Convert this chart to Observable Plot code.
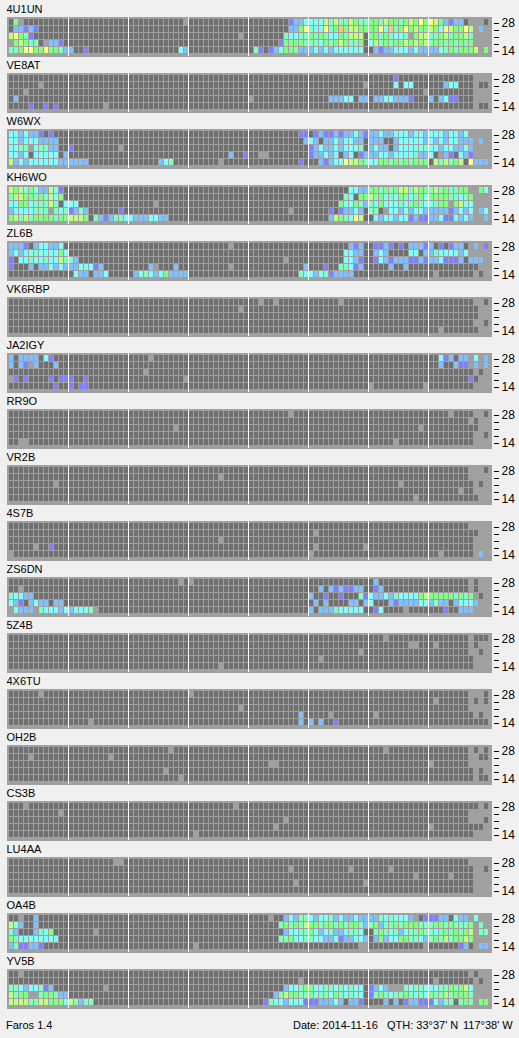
<!DOCTYPE html>
<html>
<head>
<meta charset="utf-8">
<script src="https://cdn.jsdelivr.net/npm/d3@7"></script>
<script src="https://cdn.jsdelivr.net/npm/@observablehq/plot@0.6"></script>
<style>
html,body{margin:0;padding:0;background:#f0f0f0;}
#foot{position:relative;height:24px;font:11px "Liberation Sans",sans-serif;color:#000;white-space:pre;}
#foot span{position:absolute;top:5px;}
svg{display:block;}
</style>
</head>
<body>
<div id="chart"></div>
<div id="foot"><span style="left:6px">Faros 1.4</span><span style="left:293px">Date: 2014-11-16</span><span style="left:387px">QTH: 33°37' N</span><span style="left:463px">117°38' W</span></div>
<script>
// Beacons, top to bottom
const stations = ["4U1UN","VE8AT","W6WX","KH6WO","ZL6B","VK6RBP","JA2IGY","RR9O","VR2B","4S7B","ZS6DN","5Z4B","4X6TU","OH2B","CS3B","LU4AA","OA4B","YV5B"];
// Amateur bands (MHz), top row to bottom row
const bands = [28,24,21,18,14];
const bandLabels = [28,14];
// 96 quarter-hour slots; a white rule every 3 hours
const slots = d3.range(96);
const hourRules = d3.range(12,96,12);
// Cell codes: . no signal, p..o signal strength; _ no measurement
const codes = [".","p","b","c","m","g","l","y","o"];
const codeColors = ["#707070","#8080ff","#80c0ff","#80ffff","#80ffc0","#80ff80","#c0ff80","#ffff80","#ffc080"];

// Each row: 8 groups of 12 slots; "-" means 12 dark slots
const s4U1UN = [
".g_......... - ..........._ - ........pbbc ccclmlmmlgmm ggmlggmglgyg ylgbpbb.___.",
".bbpbp...... - - - ........bbgy mccymgogllgg ggycomgyglgg lgcylggyl_b_",
"lygmp....... - - .........._. .......mccmm gmgmccgmlll. ggmgmccm_gll mmglmgglm___",
"_glgmm._bbp. - - - ......pggggm mmcgmglgmmg. clmgmgglglgl mggmgmgmg___",
"mmgyyggyggmb b..p........ ..........cb - .mp.pbcggmbb bcbcbcccccc. .bpbbcccbcbb bbcmgmgggl_g"];
const sVE8AT = [
"- - - - - - .....p...... .........___",
"......_..... - - - - ..........._ .....c.cc... ...bcc..._..",
"..._........ - - - - - ..........._ .........___",
".b.......... - - - _........... ....bbbcc.bb .bbccbbbp... b.bcpp...___",
"....p..p.p.. ......._.... - - - - - ........._.."];
const sW6WX = [
"ccbcbbp.p... - - - ..........pp .pbppbpbbcbp bbcbbcccbccb cccbccbc____",
"ccbcccbbbb.. - - - ...........b cb.bbcbccbb. bbb..bcccccb cbcbccbbb_b_",
"ccmm_cmmbb.. p........._. - - - pbcbbcbcccm. bcbb.bcccccm ccbccbbcb___",
"ccbc.ccccc.b - - ........b..p ..__........ pbbcbc.bc.pb bbccbccccmbb c._bp.cbp___",
"lbcbccccccbb bbbb........ ......bcm... ......_..... ..........p. ..bpbccyllgm ccggmgmgmggg .lmlmgl.ybbb"];
const sKH6WO = [
"lglcgcbblcp. - - - - ........ccbb ggmgmgllmlgg mlmgmmgg__gc",
"mllggmgmlcg. - - - - .......mc.gg lmgcmcgmcmgc ggggmmcmg___",
"ccggcmmmlm.c cc.......... ....._...... - - ......gccgmb mcgcccmcmgmc cmgg_glcc___",
"bccccmmm_mcm pbmb......p. - - ........_... ....p.pbbcb. mm._ccbcbccb bbbbpbcbc_bc",
"glmlmggggmgg lllg.mbpbmmc cbbbccbb.... - - ....blgmcyl. .cbccbccpbpp bbcppcbcb__b"];
const sZL6B = [
"bbbp.bccbbc. - - ........_... - ........bpb. .ppbp.p.bbbp b.p.pbb._b_p",
"bcbccmccccgc - - - - .......ccbb. .bcb....cc.b bmccccbc____",
"p.ccmccmcclm mb.......... - - ......._.... .......ccbp. .pcbpbbbppbp bbcpppb.bbb_",
"p...b.bbcbcb bbcccpb..... ....b_...b.. ........_... ...........b ...p..mmcpb. ....b..b.... ..........__",
"- .cbb.bbc.... .bcmcbcgbbbb - ..........mc cbcmpbbbb... - ._......._._"];
const sVK6RBP = [
"- - - - .._.._...... ......_..... - .........__.",
"- - - .........._. - - - ..........__",
"- - - - - - - ..........__",
"- - - - - - - .........__.",
"- - - - - - - .._.......__"];
const sJA2IGY = [
"b.bbbb.cp... - ...._....... - - - - ..cpb.bb_c_b",
"b.bp_b...b.. - - - - - - ..b..bpp_b_b",
"- - ..._........ - - - - ........._._",
"_p.p....p.pp p..p........ ..........._ - - - - ........p.__",
".........p.. p.pp........ - - - - _.........._ .........___"];
const sRR9O = [
"- - - - ........_... - - ...._....__.",
"- - - - - - - ........_.__",
"- - ........._.. - - - .........._. ..........__",
"- - - - - - - .........__.",
"..__........ - - - - - ....._...... .........___"];
const sVR2B = [
"- - - - - - - ........___.",
"- - - ......_..... - - - ........____",
"........._.. - - - - - ......_..... ........._._",
"- - - - - - - ......_..___",
"- - - - - - ........._.. ..........__"];
const s4S7B = [
"- - - - - - - ........____",
"- - - - - ._.......... - ..........__",
"- - - ......_..... - - - .........___",
"....._..p... - - - - ._........._ - .........___",
"_........... - - - - _........... - .._......_b_"];
const sZS6DN = [
"- - .........._. _........... - - .b.......... ........_.__",
".._......... - - - - ..b.bpbppbb. .pb......... ........_.__",
"mccbb....... - - - - b..p..p...mp cbbcbmccccgl gggggmgmg_._",
"cbp.bcbb.bb. - - - - .b.b....bb.b c...bpbbbbcc bmbb.bcccb__",
"_cbbb_mcccbc bcccm_...... - - - b.bbbmccccc. .pc...._.... ...p..bbb___"];
const s5Z4B = [
"- - - - - - ..._........ ........_...",
"- - - - - - ........__.. ._......_.__",
"- - - - - .........._. - ........__._",
"- - - - - .._......... - .........___",
"- - - ......_..... - - - .........___"];
const s4X6TU = [
"......_..... - - _........... - - - ........___.",
"- - - - - - - ._......_._.",
"- - - .........._. - - - ........____",
"- - - - ..........b. ...._....... ._.......... ........._._",
"- ...._....... - - ..........b. b.b..p...... - -"];
const sOH2B = [
"- - ........_... - - - ..._........ ........_._.",
"...._....... ........_... - - - - - ........__..",
"- - - - ....__...... - - _.......____",
"- - ......._.... - - - - ........._._",
"- - .........._. - - - - ........._.."];
const sCS3B = [
"..._........ - - ........._.. - - - .........._.",
".........._. - - - - - - ........____",
"- - - - ......._.... - - ........___.",
"- - - - ....._...... - - _.........._",
"- - - ._.......... - - - .........___"];
const sLU4AA = [
"- .........__. - - - - - ........____",
"- - - - ........_... ........_... ...._....... .........__.",
"- - - - - - ........._.. ...._....___",
"- - - - ........._.. ..........._ - .........___",
"- - - - - - - .........___"];
const sOA4B = [
".._..b...... - - - ...._..bcbmm cbccmbcbbcbb bbmcmcccb_.p ppbb.cbb_c__",
"lcb..b...... - - - ......mgmgml ggmggmgmggmb mgbmmgmgggmm mggmgmmmg_m_",
"mb...bmcg... ....._...... - - .......bccmm gcbcmbbcmmc. .mgmcmbcmmgm mcmgmgmgl_mm",
"gmcccccccc.. - - - ......mmgccm mccbbcpbbccb .bgbccggmmcb mgmlmgglg___",
"bmppbbp..... - - ._.......... - ..........__ ..........._ ......pb._bb"];
const sYV5B = [
".._......... - - - - - - ........_.__",
"- - - - .........._. - - ._......._._",
"mmcbccmpb... ......._.... - - .......bccmg gccmmcmcmcc. pbcb___mcmmc ccmmgmglc___",
"lmgg__mggmbb - - - .....bmlggmm gcmmcgmcmcc. pmgmcmmgmcmc gmmlmgggm___",
"llllmmllgggc lmbmm....... - - ...pmccbcccp ppbbbcb.bbp. ...b.b.pbbpp pcbmm.mgm_gg"];

const grids = [s4U1UN,sVE8AT,sW6WX,sKH6WO,sZL6B,sVK6RBP,sJA2IGY,sRR9O,sVR2B,s4S7B,sZS6DN,s5Z4B,s4X6TU,sOH2B,sCS3B,sLU4AA,sOA4B,sYV5B];

const cells = [];
grids.forEach((rows, s) => rows.forEach((row, r) => {
  const groups = row.split(" ");
  if (groups.length !== 8) throw new Error(`groups ${stations[s]} row ${r}: ${groups.length}`);
  const text = groups.map(g => g === "-" ? "............" : g).join("");
  if (text.length !== 96) throw new Error(`length ${stations[s]} row ${r}: ${text.length}`);
  slots.forEach(i => {
    if (text[i] !== "_") cells.push({station: stations[s], band: bands[r], slot: i, code: text[i]});
  });
}));

const font = '"Liberation Sans", sans-serif';
const chart = Plot.plot({
  width: 519,
  height: 1014,
  marginTop: 16,
  marginBottom: 6,
  marginLeft: 8,
  marginRight: 31,
  style: {background: "#f0f0f0", fontFamily: font, fontSize: "11px", color: "#000", shapeRendering: "crispEdges"},
  x: {type: "band", domain: slots, padding: 0, axis: null},
  y: {type: "band", domain: bands, padding: 0, insetTop: 3, insetBottom: 2, axis: null},
  fy: {domain: stations, paddingInner: 16/56, paddingOuter: 0, axis: null},
  color: {type: "ordinal", domain: codes, range: codeColors},
  marks: [
    Plot.frame({fill: "#a0a0a0", stroke: "none", insetLeft: -2, insetRight: -3}),
    Plot.cell(cells, {x: "slot", y: "band", fy: "station", fill: "code", insetLeft: 1, insetBottom: 1}),
    Plot.ruleX(hourRules, {x: d => d, stroke: "#fff", strokeWidth: 1, dx: -2.5, strokeOpacity: 1}),
    Plot.axisY(bands, {
      anchor: "right",
      tickSize: 5,
      tickPadding: 3,
      dx: 5,
      label: null,
      stroke: "#000",
      fontSize: 12,
      tickFormat: d => bandLabels.includes(d) ? String(d) : ""
    }),
    Plot.text(stations, {fy: d => d, text: d => d, frameAnchor: "top-left", textAnchor: "start", lineAnchor: "middle", dx: -2, dy: -7, fontSize: 11, fill: "#000"})
  ]
});
document.getElementById("chart").appendChild(chart);
</script>
</body>
</html>
